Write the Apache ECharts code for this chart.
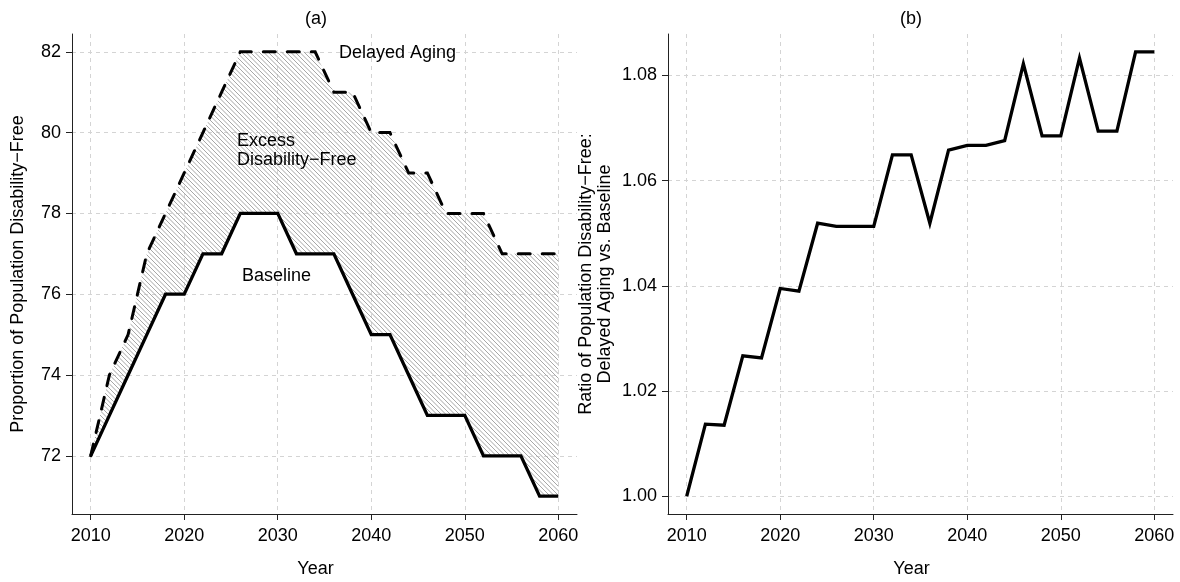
<!DOCTYPE html>
<html>
<head>
<meta charset="utf-8">
<script src="https://cdn.jsdelivr.net/npm/echarts@6/dist/echarts.min.js"></script>
<style>
html,body{margin:0;padding:0;background:#fff;}
#chart{width:1180px;height:582px;}
</style>
</head>
<body>
<div id="chart"></div>
<script>
// ---- data ----
const years = [2010,2012,2014,2016,2018,2020,2022,2024,2026,2028,2030,2032,2034,2036,2038,2040,2042,2044,2046,2048,2050,2052,2054,2056,2058,2060];
const baseline = [72,73,74,75,76,76,77,77,78,78,78,77,77,77,76,75,75,74,73,73,73,72,72,72,71,71];
const delayedAging = [72,74,75,77,78,79,80,81,82,82,82,82,82,81,81,80,80,79,79,78,78,78,77,77,77,77];
const ratio = [1.0000,1.0137,1.0135,1.0267,1.0263,1.0395,1.0390,1.0519,1.0513,1.0513,1.0513,1.0649,1.0649,1.0519,1.0658,1.0667,1.0667,1.0676,1.0822,1.0685,1.0685,1.0833,1.0694,1.0694,1.0845,1.0845];
const xTicks = [2010,2020,2030,2040,2050,2060];
const yTicksA = [72,74,76,78,80,82];
const yTicksB = [1.00,1.02,1.04,1.06,1.08];

const FONT = "'Liberation Sans', Arial, Helvetica, sans-serif";

function hatchPattern(){
  const N = 9;
  const c = document.createElement('canvas');
  c.width = N; c.height = N;
  const ctx = c.getContext('2d');
  ctx.strokeStyle = '#a6a6a6';
  ctx.lineWidth = 1;
  ctx.beginPath();
  for (let k = -2; k <= 2; k++) {
    const i = k * N / 2;
    ctx.moveTo(i, 0);
    ctx.lineTo(i + N, N);
  }
  ctx.stroke();
  return c;
}
const HATCH = hatchPattern();

const pairs = (xs, ys) => xs.map((x, i) => [x, ys[i]]);

const gridLine = {show: true, lineStyle: {color: '#d4d4d4', type: [4, 4], width: 1}};
const axisLineStyle = {show: true, lineStyle: {color: '#222', width: 1}};

function xAxisCfg(gridIndex){
  return {
    type: 'value', gridIndex, min: 2008, max: 2062,
    name: 'Year', nameLocation: 'middle', nameGap: 46,
    nameTextStyle: {fontFamily: FONT, fontSize: 18, color: '#000', padding: [0, 18, 0, 0]},
    axisLine: axisLineStyle,
    axisTick: {show: true, length: 6, customValues: xTicks, lineStyle: {color: '#222'}},
    axisLabel: {show: true, customValues: xTicks, margin: 13, fontFamily: FONT, fontSize: 18, color: '#000',
      formatter: v => String(v)},
    splitLine: gridLine
  };
}

const option = {
  animation: false,
  backgroundColor: '#fff',
  grid: [
    {left: 72, right: 603, top: 34, bottom: 68, containLabel: false, outerBoundsMode: 'none'},
    {left: 668, right: 7, top: 34, bottom: 68, containLabel: false, outerBoundsMode: 'none'}
  ],
  xAxis: [xAxisCfg(0), xAxisCfg(1)],
  yAxis: [
    {
      type: 'value', gridIndex: 0, min: 70.56, max: 82.44,
      name: 'Proportion of Population Disability\u2212Free', nameLocation: 'middle', nameGap: 45, nameRotate: 90,
      nameTextStyle: {fontFamily: FONT, fontSize: 18, color: '#000'},
      axisLine: axisLineStyle,
      axisTick: {show: true, length: 6, customValues: yTicksA, lineStyle: {color: '#222'}},
      axisLabel: {show: true, customValues: yTicksA, margin: 11, fontFamily: FONT, fontSize: 18, color: '#000'},
      splitLine: gridLine
    },
    {
      type: 'value', gridIndex: 1, min: 0.99662, max: 1.08788,
      name: 'Ratio of Population Disability\u2212Free:\nDelayed Aging vs. Baseline', nameLocation: 'middle', nameGap: 53, nameRotate: 90,
      nameTextStyle: {fontFamily: FONT, fontSize: 18, color: '#000', lineHeight: 19},
      axisLine: axisLineStyle,
      axisTick: {show: true, length: 6, customValues: yTicksB, lineStyle: {color: '#222'}},
      axisLabel: {show: true, customValues: yTicksB, margin: 11, fontFamily: FONT, fontSize: 18, color: '#000',
        formatter: v => Number(v).toFixed(2)},
      splitLine: gridLine
    }
  ],
  graphic: [
    {type: 'text', x: 316, y: 19, style: {text: '(a)', font: '18px ' + FONT, fill: '#000', align: 'center', verticalAlign: 'middle', textAlign: 'center', textVerticalAlign: 'middle'}},
    {type: 'text', x: 911, y: 19, style: {text: '(b)', font: '18px ' + FONT, fill: '#000', align: 'center', verticalAlign: 'middle', textAlign: 'center', textVerticalAlign: 'middle'}},
    {type: 'text', x: 339, y: 53, z: 10, style: {text: 'Delayed Aging', font: '18px ' + FONT, fill: '#000', align: 'left', verticalAlign: 'middle', textAlign: 'left', textVerticalAlign: 'middle'}},
    {type: 'text', x: 237, y: 141, z: 10, style: {text: 'Excess', font: '18px ' + FONT, fill: '#000', align: 'left', verticalAlign: 'middle', textAlign: 'left', textVerticalAlign: 'middle'}},
    {type: 'text', x: 237, y: 160, z: 10, style: {text: 'Disability\u2212Free', font: '18px ' + FONT, fill: '#000', align: 'left', verticalAlign: 'middle', textAlign: 'left', textVerticalAlign: 'middle'}},
    {type: 'text', x: 242, y: 276, z: 10, style: {text: 'Baseline', font: '18px ' + FONT, fill: '#000', align: 'left', verticalAlign: 'middle', textAlign: 'left', textVerticalAlign: 'middle'}}
  ],
  series: [
    {
      name: 'Excess Disability-Free', type: 'custom', xAxisIndex: 0, yAxisIndex: 0,
      data: pairs(years, delayedAging), silent: true, z: 2,
      renderItem: function (params, api) {
        if (params.dataIndex !== 0) return;
        const pts = [];
        for (let i = 0; i < years.length; i++) pts.push(api.coord([years[i], delayedAging[i]]));
        for (let i = years.length - 1; i >= 0; i--) pts.push(api.coord([years[i], baseline[i]]));
        return {
          type: 'polygon',
          shape: {points: pts},
          style: {fill: {image: HATCH, repeat: 'repeat'}, stroke: null}
        };
      }
    },
    {
      name: 'Delayed Aging', type: 'line', xAxisIndex: 0, yAxisIndex: 0,
      data: pairs(years, delayedAging), symbol: 'none',
      lineStyle: {color: '#000', width: 3, type: [12, 12], cap: 'round', join: 'miter'}, z: 5
    },
    {
      name: 'Baseline', type: 'line', xAxisIndex: 0, yAxisIndex: 0,
      data: pairs(years, baseline), symbol: 'none',
      lineStyle: {color: '#000', width: 3.3, join: 'miter'}, z: 5
    },
    {
      name: 'Ratio', type: 'line', xAxisIndex: 1, yAxisIndex: 1,
      data: pairs(years, ratio), symbol: 'none',
      lineStyle: {color: '#000', width: 3.3, join: 'miter'}, z: 5
    }
  ]
};

const chart = echarts.init(document.getElementById('chart'), null, {renderer: 'canvas'});
chart.setOption(option);
</script>
</body>
</html>
